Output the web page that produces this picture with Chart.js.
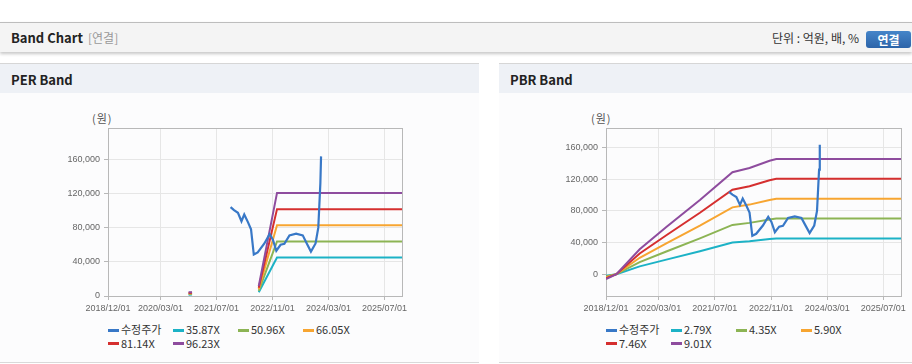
<!DOCTYPE html>
<html>
<head>
<meta charset="utf-8">
<script src="https://cdn.jsdelivr.net/npm/chart.js@4.4.1/dist/chart.umd.min.js"></script>
<style>
  body { margin: 0; width: 912px; height: 364px; overflow: hidden; background: #fff; position: relative;
         font-family: "Noto Sans CJK KR", "Noto Sans", sans-serif; color: #222; }
  .topbar { position: absolute; left: 0; top: 22px; width: 912px; height: 29px; background: #f4f4f4;
            border-top: 1px solid #bdbdbd; box-shadow: 0 2px 3px rgba(0,0,0,0.22); }
  .topbar .title { position: absolute; left: 11px; top: 6px; font-size: 13px; font-weight: bold; line-height: 17px; }
  .topbar .sub { position: absolute; left: 88px; top: 6px; font-size: 12px; color: #999; line-height: 17px; }
  .topbar .unit { position: absolute; right: 53px; top: 6px; font-size: 12px; color: #333; line-height: 17px; }
  .topbar .btn { position: absolute; left: 866px; top: 8px; width: 45px; height: 17px; border-radius: 3px;
                 background: linear-gradient(#4585c9, #2c64a9); color: #fff; font-size: 12px; font-weight: bold;
                 text-align: center; line-height: 17px; }
  .panel { position: absolute; top: 63px; height: 298px; background: #fcfcfd;
           border-top: 1px solid #d6d6d6; border-bottom: 1px solid #d9d9d9; }
  .panel .head { height: 29px; background: #eef1f6; font-size: 13px; font-weight: bold;
                 padding-left: 11px; line-height: 31px; }
  .unitlabel { position: absolute; top: 110px; font-size: 11px; color: #555; letter-spacing: 1px; }
  canvas { position: absolute; top: 100px; }
  .legend { position: absolute; top: 323px; width: 270px; font-size: 11px; color: #333; line-height: 13.5px; }
  .legend .item { display: inline-block; width: 65px; white-space: nowrap; vertical-align: top; }
  .legend .sw { display: inline-block; width: 11px; height: 3px; margin-right: 2px; vertical-align: middle; position: relative; top: -1px; }
</style>
</head>
<body>
<div class="topbar">
  <span class="title">Band Chart</span><span class="sub">[연결]</span>
  <span class="unit">단위 : 억원, 배, %</span>
  <div class="btn">연결</div>
</div>
<div class="panel" style="left:0;width:479px"><div class="head">PER Band</div></div>
<div class="panel" style="left:499px;width:413px"><div class="head">PBR Band</div></div>

<div class="unitlabel" style="left:92px">(원)</div>
<div class="unitlabel" style="left:591px">(원)</div>

<canvas id="perChart" width="478" height="220" style="left:0"></canvas>
<canvas id="pbrChart" width="413" height="220" style="left:499px"></canvas>

<div class="legend" id="perLegend" style="left:108px"></div>
<div class="legend" id="pbrLegend" style="left:606px"></div>

<script>
// axis ticks
const xTickDates = ['2018-12-01', '2020-03-01', '2021-07-01', '2022-11-01', '2024-03-01', '2025-07-01'];
const xTickLabels = ['2018/12/01', '2020/03/01', '2021/07/01', '2022/11/01', '2024/03/01', '2025/07/01'];
const xStart = '2018-12-01';
const xEnd = '2025-12-01';
const yTicks = [0, 40000, 80000, 120000, 160000];

// series names and colours
const priceLabel = '수정주가';
const perLabels = ['35.87X', '50.96X', '66.05X', '81.14X', '96.23X'];
const pbrLabels = ['2.79X', '4.35X', '5.90X', '7.46X', '9.01X'];
const colors = ['#3878c7', '#1cb2c6', '#8cb454', '#f7a531', '#d52f2f', '#8e4c9e'];

// adjusted price (same in both charts)
const priceDates = ['2021-11-01', '2021-12-01', '2022-01-04', '2022-02-04', '2022-02-28', '2022-04-01',
  '2022-04-28', '2022-05-22', '2022-06-25', '2022-08-22', '2022-10-07', '2022-11-04', '2022-12-04',
  '2023-01-10', '2023-02-12', '2023-03-28', '2023-05-25', '2023-07-22', '2023-08-28', '2023-10-01',
  '2023-11-10', '2023-12-04', '2023-12-13', '2023-12-22', '2023-12-28'];
const priceValues = [104000, 100500, 97500, 87500, 95500, 86500,
  78000, 48500, 51000, 61500, 72500, 66000, 53000,
  60000, 61000, 71000, 73000, 71000, 61000, 52000,
  61500, 80000, 106000, 132000, 163500];

// PER band lines
const perDates = ['2020-11-01', '2020-12-01', '2021-06-01', '2022-07-04', '2022-12-10', '2025-12-01'];
const per1 = [1600, 1700, null, 4300, 45000, 45000];
const per2 = [2300, 2400, null, 6100, 63900, 63900];
const per3 = [3000, 3100, null, 7900, 82800, 82800];
const per4 = [3600, 3800, null, 9700, 101700, 101700];
const per5 = [4300, 4500, null, 11500, 120700, 120700];

// PBR band lines
const pbrDates = ['2018-12-01', '2019-03-01', '2019-09-19', '2020-05-07', '2021-02-22', '2021-12-01',
  '2022-04-28', '2022-10-19', '2022-12-16', '2025-12-01'];
const pbr1 = [-2000, 0, 9800, 18400, 29000, 39900, 41600, 44400, 45100, 45100];
const pbr2 = [-3000, 0, 15200, 28700, 45200, 62200, 64800, 69200, 70300, 70300];
const pbr3 = [-4100, 0, 20700, 38900, 61400, 84400, 87900, 93800, 95300, 95300];
const pbr4 = [-5200, 0, 26100, 49200, 77600, 106700, 111200, 118600, 120500, 120500];
const pbr5 = [-6300, 0, 31500, 59500, 93700, 128800, 134200, 143300, 145500, 145500];

// date string -> days since start of axis
function dayIndex(s) {
  const p = s.split('-').map(Number);
  const b = xStart.split('-').map(Number);
  return (Date.UTC(p[0], p[1] - 1, p[2]) - Date.UTC(b[0], b[1] - 1, b[2])) / 86400000;
}

function toPoints(dates, values) {
  return dates.map((d, i) => ({ x: dayIndex(d), y: values[i] }));
}

// frame around the plot area
const framePlugin = {
  id: 'frame',
  beforeDatasetsDraw(chart) {
    const a = chart.chartArea, c = chart.ctx;
    c.save();
    c.strokeStyle = '#b8b8b8';
    c.lineWidth = 1;
    c.strokeRect(Math.round(a.left) + 0.5, Math.round(a.top) + 0.5, Math.round(a.right - a.left), Math.round(a.bottom - a.top));
    c.restore();
  }
};

const tickFont = { family: '"Liberation Sans", Arial, sans-serif', size: 9 };

function makeChart(id, bandLabels, bandDates, bands, yMin, yMax, pad) {
  const datasets = [{
    label: priceLabel,
    data: toPoints(priceDates, priceValues),
    borderColor: colors[0],
    borderWidth: 2.2,
    order: 0
  }];
  bands.forEach((b, i) => {
    datasets.push({
      label: bandLabels[i],
      data: toPoints(bandDates, b),
      borderColor: colors[i + 1],
      borderWidth: 2,
      order: bands.length - i   // higher multiples drawn on top
    });
  });

  return new Chart(document.getElementById(id), {
    type: 'line',
    data: { datasets: datasets },
    options: {
      responsive: false,
      animation: false,
      layout: { padding: pad },
      elements: { point: { radius: 0 }, line: { tension: 0 } },
      plugins: { legend: { display: false }, tooltip: { enabled: false } },
      scales: {
        x: {
          type: 'linear',
          min: 0,
          max: dayIndex(xEnd),
          afterBuildTicks: s => { s.ticks = xTickDates.map(d => ({ value: dayIndex(d) })); },
          afterFit: s => { s.height = 24; },
          grid: { color: '#e6e6e6', tickColor: '#b8b8b8', tickLength: 4 },
          border: { color: '#b8b8b8' },
          ticks: { autoSkip: false, maxRotation: 0, padding: 3, color: '#666', font: tickFont,
                   callback: (v, i) => xTickLabels[i] }
        },
        y: {
          min: yMin,
          max: yMax,
          afterBuildTicks: s => { s.ticks = yTicks.map(v => ({ value: v })); },
          afterFit: s => { s.width = 88; },
          grid: { color: '#e6e6e6', tickColor: '#b8b8b8', tickLength: 4 },
          border: { color: '#b8b8b8' },
          ticks: { padding: 4, color: '#666', font: tickFont,
                   callback: v => v.toLocaleString('en-US') }
        }
      }
    },
    plugins: [framePlugin]
  });
}

function makeLegend(id, bandLabels) {
  const names = [priceLabel].concat(bandLabels);
  document.getElementById(id).innerHTML = names.map((n, i) =>
    '<span class="item"><span class="sw" style="background:' + colors[i] + '"></span>' + n + '</span>'
  ).join('');
}

makeChart('perChart', perLabels, perDates, [per1, per2, per3, per4, per5], 0, 196700,
  { left: 20, right: 76, top: 28, bottom: 0 });
makeChart('pbrChart', pbrLabels, pbrDates, [pbr1, pbr2, pbr3, pbr4, pbr5], -27600, 184700,
  { left: 19, right: 11, top: 28, bottom: 0 });
makeLegend('perLegend', perLabels);
makeLegend('pbrLegend', pbrLabels);
</script>
</body>
</html>
